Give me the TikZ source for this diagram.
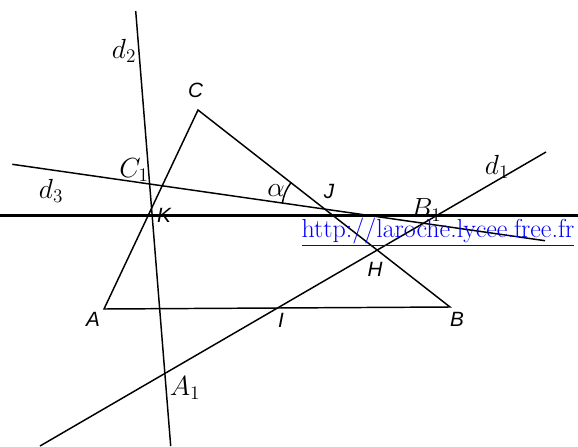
\documentclass[tikz,border=0pt]{standalone}
\usepackage{fontspec}
\newfontfamily\arialfont{Liberation Sans}
\usetikzlibrary{positioning,calc}
\definecolor{urlblue}{HTML}{0000FF}

\begin{document}
\begin{tikzpicture}[x=0.75pt,y=-0.75pt,
  ptname/.style={font=\arialfont\fontsize{15.5}{17}\selectfont\itshape},
  mlabel/.style={font=\fontsize{21}{23}\selectfont},
  ln/.style={line width=1.1pt}]
  \useasboundingbox (0,0) rectangle (578,446);

  % triangle
  \coordinate (A) at (104,309);
  \coordinate (B) at (450,307);
  \coordinate (C) at (198,110);
  \draw[ln,line join=miter] (A) -- (B) -- (C) -- cycle;

  % the lines
  \coordinate (hl) at (0,215.5);
  \coordinate (hr) at (578,215.5);
  \coordinate (d1a) at (40,446);
  \coordinate (d1b) at (546,152);
  \coordinate (d2a) at (135.7,11);
  \coordinate (d2b) at (170.7,446);
  \coordinate (d3a) at (12.3,164.3);
  \coordinate (d3b) at (545,240.7);
  \draw[line width=1.6pt] (hl) -- (hr);
  \draw[ln] (d1a) -- (d1b);
  \draw[ln] (d2a) -- (d2b);
  \draw[ln] (d3a) -- (d3b);

  % angle alpha
  \coordinate (J) at (325,209);
  \draw[ln] ($(J)+(188:43)$) arc[start angle=188, end angle=218, radius=43];

  % points
  \node[ptname] (nA) at (93,319) {A};
  \node[ptname] (nB) at (457,319) {B};
  \node[ptname] (nC) at (195.5,90.5) {C};
  \node[ptname] (nI) at (281,320) {I};
  \node[ptname] (nH) at (375,269) {H};
  \node[ptname] (nJ) at (329,191) {J};
  \node[ptname] (nK) at (164,215) {K};

  % labels of the lines
  \node[mlabel] (ld1) at (497,167) {$d_1$};
  \node[mlabel] (ld2) at (124,51) {$d_2$};
  \node[mlabel] (ld3) at (51,191) {$d_3$};
  \node[mlabel] (lA1) at (185,388) {$A_1$};
  \node[mlabel] (lB1) at (426,210) {$B_1$};
  \node[mlabel] (lC1) at (134,170) {$C_1$};
  \node[mlabel] (lal) at (276,191) {$\alpha$};

  % url
  \node[font=\fontsize{19.5}{22}\selectfont,text=urlblue,inner sep=0pt] (url) at (438,232)
    {\underline{http://laroche.lycee.free.fr}};
\end{tikzpicture}
\end{document}
